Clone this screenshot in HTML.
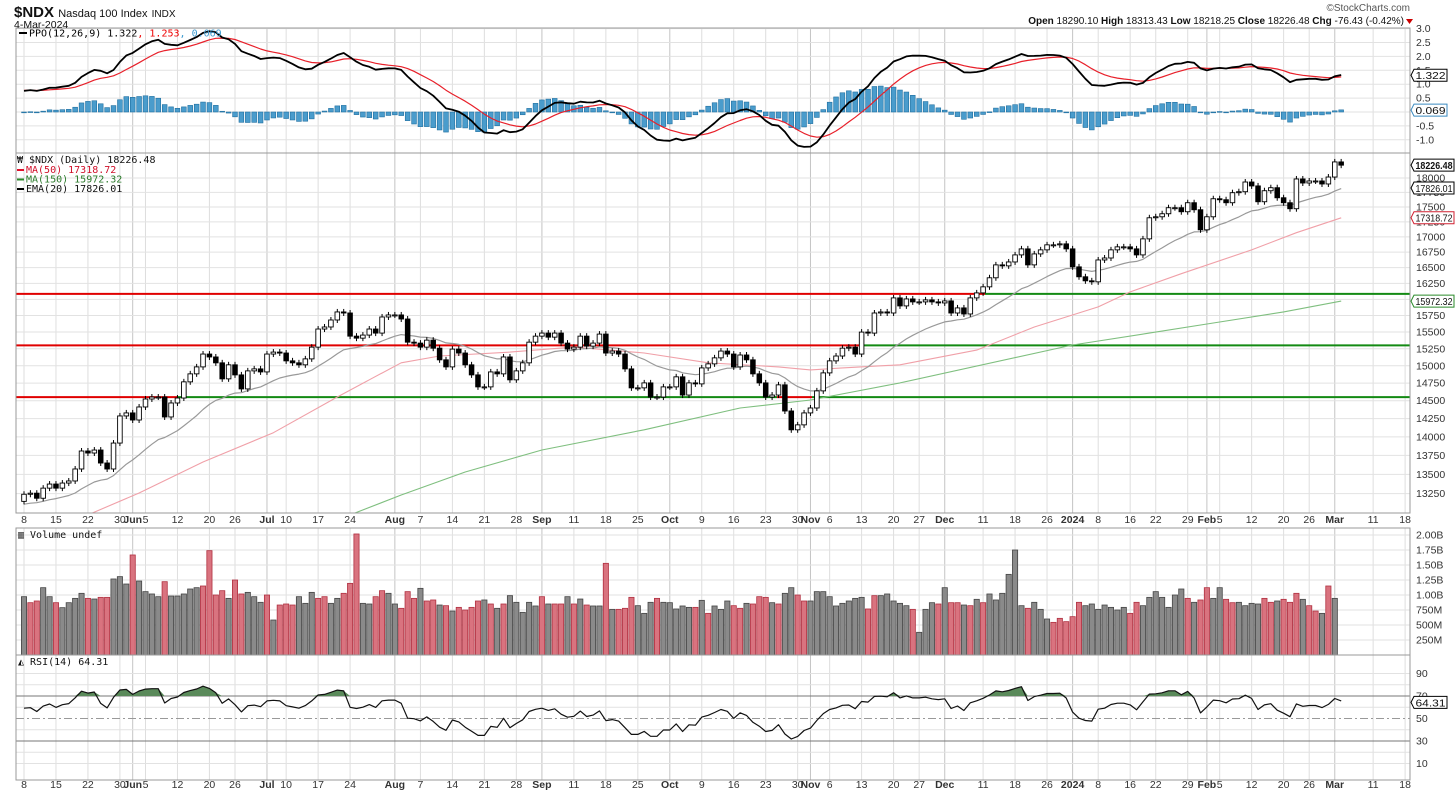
<!DOCTYPE html>
<html><head><meta charset="utf-8">
<style>
html,body{margin:0;padding:0;background:#fff;}
svg{display:block;font-family:"Liberation Sans",Arial,sans-serif;}
.ax{font-size:10.5px;fill:#333;}
.mono{font-family:"DejaVu Sans Mono","Liberation Mono",monospace;font-size:10px;}
</style></head>
<body>
<svg id="chart" width="1456" height="794" viewBox="0 0 1456 794" xmlns="http://www.w3.org/2000/svg">
<rect x="0" y="0" width="1456" height="794" fill="#fff"/>
<g id="grid"></g>
<g id="levels"></g>
<g id="marks"></g>
<g id="frames"></g>
<g id="labels"></g>
<text x="14" y="17" font-size="15" font-weight="bold" fill="#111">$NDX <tspan font-size="11" font-weight="normal">Nasdaq 100 Index</tspan> <tspan font-size="10" font-weight="normal">INDX</tspan></text>
<text x="14" y="28" font-size="10.5" fill="#111">4-Mar-2024</text>
<text x="1410" y="11" font-size="10" fill="#555" text-anchor="end">©StockCharts.com</text>
<text x="1404" y="24" font-size="10" fill="#111" text-anchor="end"><tspan font-weight="bold">Open</tspan> 18290.10 <tspan font-weight="bold">High</tspan> 18313.43 <tspan font-weight="bold">Low</tspan> 18218.25 <tspan font-weight="bold">Close</tspan> 18226.48 <tspan font-weight="bold">Chg</tspan> -76.43 (-0.42%)</text>
<path d="M1406,19 L1413,19 L1409.5,24 Z" fill="#c00"/>
<g class="mono">
<line x1="19" y1="33" x2="27" y2="33" stroke="#000" stroke-width="2"/>
<text x="29" y="36.5">PPO(12,26,9) 1.322<tspan fill="#e00">, 1.253</tspan><tspan fill="#3a9ad0">, 0.069</tspan></text>
</g>
<g class="mono">
<text x="17" y="163" fill="#111">₩ $NDX (Daily) 18226.48</text>
<line x1="17" y1="170" x2="24" y2="170" stroke="#e0102a" stroke-width="2"/><text x="26" y="173" fill="#d0102a">MA(50) 17318.72</text>
<line x1="17" y1="179.5" x2="24" y2="179.5" stroke="#2a8a2a" stroke-width="2"/><text x="26" y="182.5" fill="#2a7a2a">MA(150) 15972.32</text>
<line x1="17" y1="189" x2="24" y2="189" stroke="#000" stroke-width="2"/><text x="26" y="192" fill="#111">EMA(20) 17826.01</text>
</g>
<text class="mono" x="18" y="538" fill="#111">▥ Volume undef</text>
<text class="mono" x="18" y="665" fill="#111">◭ RSI(14) 64.31</text>
<g id="badges"></g>

<script>
// ---------- DATA ----------
const closes = [13241,13255,13190,13320,13373,13320,13386,13413,13570,13809,13782,13822,13649,13570,13916,14287,14329,14231,14412,14524,14552,14552,14273,14468,14538,14768,14883,14984,15172,15129,15043,14811,15014,14868,14667,14926,14955,14911,15172,15201,15187,15072,15043,15014,15101,15274,15545,15576,15682,15805,15789,15438,15408,15454,15545,15484,15728,15759,15759,15697,15348,15334,15274,15378,15259,15087,14984,15245,15187,15014,14868,14696,14696,14911,14883,15129,14797,14926,15043,15348,15438,15484,15423,15484,15334,15245,15274,15438,15289,15334,15469,15187,15216,15172,14955,14682,14682,14753,14552,14552,14696,14696,14840,14580,14753,14739,14969,15028,15116,15216,15172,14984,15158,15087,14883,14753,14552,14580,14725,14356,14096,14164,14329,14398,14639,14897,15072,15143,15259,15274,15172,15499,15484,15789,15805,15789,16022,15898,16006,15960,15960,15991,15960,15944,15975,15789,15867,15774,16022,16100,16195,16338,16544,16528,16591,16705,16803,16544,16721,16787,16869,16869,16885,16803,16512,16354,16290,16274,16623,16655,16787,16836,16836,16803,16705,16967,17318,17335,17386,17488,17488,17420,17573,17454,17117,17335,17641,17624,17573,17745,17762,17930,17862,17590,17779,17831,17658,17573,17471,17983,17913,17948,17948,17896,18017,18283,18226];
const firstOpen = 13150;
const volumes = [972,872,900,1122,972,872,789,872,944,1028,944,933,961,961,1267,1306,1183,1667,1233,1056,1017,972,1222,983,983,1017,1100,1122,1150,1739,1000,1072,944,1250,1017,1044,972,878,1000,583,833,850,833,972,861,1044,944,972,861,944,1028,1194,2017,861,850,972,1072,1028,850,778,1056,944,1111,900,917,833,822,733,794,750,794,900,917,850,778,850,989,878,711,878,817,972,850,850,850,972,850,933,833,817,817,1528,761,761,778,961,822,694,878,944,878,872,767,
817,794,794,911,694,817,761,900,822,778,861,850,972,961,872,850,1028,1122,1000,900,900,1056,1056,972,817,861,900,944,961,767,989,989,1017,900,861,822,761,378,761,872,850,1122,872,872,833,822,928,872,1017,917,1028,1344,1750,822,778,878,761,600,544,611,556,639,878,822,850,761,833,794,750,794,694,878,822,961,1056,961,794,1000,1100,944,878,917,1122,944,1122,928,872,878,822,861,850,944,878,900,928,878,1028,928,822,733,694,1150,944];
const volColors = "grrggrggggrgrrgggrggggrgggggrrrrgrrgggrgrrrgggrrggrrrggrrggrrrgrrgrgrrrrgrgrgggggrgrrgrgrggrgrrrgggrgggggrgrgggrrgrrrgrggrrgggggggggrrgggggrgggrgrrgrgrggggggrgggrrrrrgggggggrrgggggggrgrrggrrggggrrgrrrgrrgrggrgg";
const ma50Idx = [10,18,28,39,49,54,59,65,76,86,97,107,118,123,128,137,149,158,168,173,181,192,199,206];
const ma50Val = [12979,13257,13663,14057,14552,14797,15043,15143,15201,15274,15187,15043,14984,14940,14969,15014,15230,15576,15883,16116,16403,16787,17069,17318];
const ma150Idx = [49,59,69,81,97,112,123,137,164,176,186,197,206];
const ma150Val = [12915,13232,13530,13822,14096,14398,14510,14753,15306,15484,15636,15805,15972];
const emaSeed = 13100, ema12Seed = 13094, ema26Seed = 13000, signalSeed = 0.78;
const rsiGainSeed = 48, rsiLossSeed = 38;
const priceTicks = [13250,13500,13750,14000,14250,14500,14750,15000,15250,15500,15750,16000,16250,16500,16750,17000,17250,17500,17750,18000];
const priceTickLabels = ["13250","13500","13750","14000","14250","14500","14750","15000","15250","15500","15750","16000","16250","16500","16750","17000","17250","17500","17750","18000"];
const ppoTicks = [3.0,2.5,2.0,1.5,1.0,0.5,0,-0.5,-1.0];
const volTicks = [250,500,750,1000,1250,1500,1750,2000];
const volTickLabels = ["250M","500M","750M","1.00B","1.25B","1.50B","1.75B","2.00B"];
const rsiTicks = [10,20,30,40,50,60,70,80,90];
const dateIdx = [0,5,10,15,17,19,24,29,33,38,41,46,51,58,62,67,72,77,81,86,91,96,101,106,111,116,121,123,126,131,136,140,144,150,155,160,164,168,173,177,182,185,187,192,197,201,205,211,216];
const dateLabels = ["8","15","22","30","Jun","5","12","20","26","Jul","10","17","24","Aug","7","14","21","28","Sep","11","18","25","Oct","9","16","23","30","Nov","6","13","20","27","Dec","11","18","26","2024","8","16","22","29","Feb","5","12","20","26","Mar","11","18"];
const boldLabels = ["Jun","Jul","Aug","Sep","Oct","Nov","Dec","2024","Feb","Mar"];
const levelPrices = [16085,15300,14550];

// ---------- SCALES ----------
const L = 16, R = 1410;
const xS = i => 24 + 6.394 * i;
const yP = p => 178 - 1030 * Math.log(p / 18000);
const yPPO = v => 112 - v * 27.8;
const yV = m => 655 - m * 0.06;
const yR = v => 718.5 - (v - 50) * 1.125;
const NS = "http://www.w3.org/2000/svg";
function mk(tag, attrs, parent) {
  const e = document.createElementNS(NS, tag);
  for (const k in attrs) e.setAttribute(k, attrs[k]);
  parent.appendChild(e);
  return e;
}
const grid = document.getElementById('grid');
const marks = document.getElementById('marks');
const labels = document.getElementById('labels');
const frames = document.getElementById('frames');
const levels = document.getElementById('levels');
const badges = document.getElementById('badges');

const panels = [[28,153],[153,513],[528,655],[655,780]];

dateIdx.forEach((di, k) => {
  const x = xS(di);
  const bold = boldLabels.includes(dateLabels[k]);
  panels.forEach(p => {
    const ln = mk('line', {x1:x, x2:x, y1:p[0], y2:p[1], stroke: bold ? '#c4c4c4' : '#dedede', 'stroke-width': 1}, grid);
    
    
  });
  [523, 788].forEach(yy => {
    const t = mk('text', {x:x, y:yy, 'text-anchor':'middle', class:'ax', 'font-weight': bold ? 'bold' : 'normal', fill: bold ? '#111' : '#444'}, labels);
    t.textContent = dateLabels[k];
    
    
  });
});
ppoTicks.forEach(v => {
  const y = yPPO(v);
  mk('line', {x1:L, x2:R, y1:y, y2:y, stroke:'#e2e2e2'}, grid);
  if (v !== 0) {
    const t = mk('text', {x:1416, y:y+3.5, class:'ax'}, labels);
    t.textContent = v.toFixed(1);
    
    
  }
});
priceTicks.forEach((v, k) => {
  const y = yP(v);
  mk('line', {x1:L, x2:R, y1:y, y2:y, stroke:'#e2e2e2'}, grid);
  const t = mk('text', {x:1416, y:y+3.5, class:'ax'}, labels);
  t.textContent = priceTickLabels[k];
  
  
});
volTicks.forEach((v, k) => {
  const y = yV(v);
  mk('line', {x1:L, x2:R, y1:y, y2:y, stroke:'#e2e2e2'}, grid);
  const t = mk('text', {x:1416, y:y+3.5, class:'ax'}, labels);
  t.textContent = volTickLabels[k];
  
  
});
rsiTicks.forEach(v => {
  const y = yR(v);
  let st = '#e2e2e2', dash = null;
  if (v === 70 || v === 30) st = '#777';
  if (v === 50) { st = '#999'; dash = '8,3,2,3'; }
  const a = {x1:L, x2:R, y1:y, y2:y, stroke:st};
  if (dash) a['stroke-dasharray'] = dash;
  mk('line', a, grid);
  if (v % 20 === 10) {
    const t = mk('text', {x:1416, y:y+3.5, class:'ax'}, labels);
    t.textContent = String(v);
    
    
  }
});

const levelSegs = [
  [[L,985,'#e00000'],[985,R,'#138a13']],
  [[L,860,'#e00000'],[860,R,'#138a13']],
  [[L,178,'#e00000'],[178,777,'#138a13'],[777,812,'#e00000'],[812,R,'#138a13']]
];
levelPrices.forEach((p, k) => {
  const y = yP(p);
  levelSegs[k].forEach(s => {
    const ln = mk('line', {x1:s[0], x2:s[1], y1:y, y2:y, stroke:s[2], 'stroke-width':2}, levels);
    
    
  });
});

// ---------- INDICATORS ----------
const n = closes.length;
const ema20 = []; let e = emaSeed;
closes.forEach(c => { e = e + (c - e) * 2 / 21; ema20.push(e); });
const ppo = [], sig = [], hist = [];
let e12 = ema12Seed, e26 = ema26Seed, s = signalSeed;
closes.forEach(c => {
  e12 += (c - e12) * 2 / 13; e26 += (c - e26) * 2 / 27;
  const v = (e12 - e26) / e26 * 100; ppo.push(v);
  s += (v - s) * 2 / 10; sig.push(s); hist.push(v - s);
});
const rsi = []; let ag = rsiGainSeed, al = rsiLossSeed;
closes.forEach((c, i) => {
  const prev = i === 0 ? firstOpen : closes[i-1];
  const d = c - prev;
  ag = (ag * 13 + Math.max(d, 0)) / 14; al = (al * 13 + Math.max(-d, 0)) / 14;
  rsi.push(100 - 100 / (1 + ag / al));
});

const defs = mk('defs', {}, marks);
const cp = mk('clipPath', {id:'pclip'}, defs);
mk('rect', {x:L, y:153, width:R-L, height:360}, cp);
const cp2 = mk('clipPath', {id:'ppoclip'}, defs);
mk('rect', {x:L, y:28, width:R-L, height:125}, cp2);

hist.forEach((h, i) => {
  const y0 = yPPO(0), y1 = yPPO(h * 1.1);
  const b = mk('rect', {x:xS(i)-2.4, y:Math.min(y0,y1), width:4.8, height:Math.max(Math.abs(y1-y0),0.8), fill:'#4a9ccc', stroke:'#1f6fa0', 'stroke-width':0.6}, marks);
  
  
});
function poly(xs, ys, color, w, name, clip) {
  const pts = xs.map((x, k) => x.toFixed(1) + ',' + ys[k].toFixed(1)).join(' ');
  const pl = mk('polyline', {points:pts, fill:'none', stroke:color, 'stroke-width':w, 'stroke-linejoin':'round'}, marks);
  if (clip) pl.setAttribute('clip-path', 'url(#' + clip + ')');
  
  
  return pl;
}
const idx = closes.map((_, i) => i);
poly(idx.map(xS), sig.map(yPPO), '#e8202a', 1.2, 'ppo-signal-line', 'ppoclip');
poly(idx.map(xS), ppo.map(yPPO), '#000', 1.8, 'ppo-line', 'ppoclip');

poly(ma150Idx.map(xS), ma150Val.map(yP), '#7fbf7f', 1.1, 'ma150-line', 'pclip');
poly(ma50Idx.map(xS), ma50Val.map(yP), '#f0a0a8', 1.1, 'ma50-line', 'pclip');
poly(idx.map(xS), ema20.map(yP), '#999', 1.2, 'ema20-line', 'pclip');

closes.forEach((c, i) => {
  const o = i === 0 ? firstOpen : closes[i-1];
  const x = xS(i), yo = yP(o), yc = yP(c);
  const top = Math.min(yo, yc), bot = Math.max(yo, yc);
  const up = c >= o;
  const w = mk('line', {x1:x, x2:x, y1:top-3, y2:bot+3, stroke:'#000', 'stroke-width':1}, marks);
  
  
  const b = mk('rect', {x:x-2.3, y:top, width:4.6, height:Math.max(bot-top,1), fill: up ? '#fff' : '#000', stroke:'#000', 'stroke-width':0.9}, marks);
  
  
});

volumes.forEach((v, i) => {
  const red = volColors[i] === 'r';
  const y = yV(v);
  const b = mk('rect', {x:xS(i)-2.6, y:y, width:5.2, height:655-y, fill: red ? '#d9737f' : '#8a8a8a', stroke: red ? '#b03040' : '#444', 'stroke-width':0.8}, marks);
  
  
});

let fillPts = [];
function flush() {
  if (fillPts.length > 1) {
    const y70 = yR(70);
    const d = 'M' + fillPts[0][0] + ',' + y70 + ' ' + fillPts.map(p => 'L' + p[0] + ',' + p[1]).join(' ') + ' L' + fillPts[fillPts.length-1][0] + ',' + y70 + ' Z';
    const f = mk('path', {d:d, fill:'#5a8a5a', stroke:'none'}, marks);
    
    
  }
  fillPts = [];
}
rsi.forEach((v, i) => {
  if (v > 70) {
    if (fillPts.length === 0 && i > 0) fillPts.push([xS(i-1), yR(70)]);
    fillPts.push([xS(i), yR(v)]);
  } else if (fillPts.length) { fillPts.push([xS(i), yR(70)]); flush(); }
});
flush();
poly(idx.map(xS), rsi.map(yR), '#111', 1.2, 'rsi-line', null);

panels.forEach(p => {
  const r = mk('rect', {x:L, y:p[0], width:R-L, height:p[1]-p[0], fill:'none', stroke:'#999', 'stroke-width':1}, frames);
  
  
});

function badge(y, txt, color, bold) {
  const g = mk('g', {}, badges);
  
  
  const w = Math.min(txt.length * 5.8 + 4, 40);
  mk('path', {d:`M1411,${y} L1414,${y-6} L${1414+w},${y-6} L${1414+w},${y+6} L1414,${y+6} Z`, fill:'#fff', stroke:color, 'stroke-width':1}, g);
  const t = mk('text', {x:1415.5, y:y+4, 'font-size':10.5, fill:'#111', 'font-weight': bold ? 'bold' : 'normal', textLength: (w-3).toFixed(1), lengthAdjust:'spacingAndGlyphs'}, g);
  t.textContent = txt;
}
badge(yPPO(1.322), '1.322', '#000');
badge(yPPO(0.069), '0.069', '#3a8ac0');
badge(yP(closes[n-1]), '18226.48', '#000', true);
badge(yP(17826.01), '17826.01', '#000');
badge(yP(17318.72), '17318.72', '#d02030');
badge(yP(15972.32), '15972.32', '#2a8a2a');
badge(yV(volumes[n-1]), '938636281', '#000');
badge(yR(64.31), '64.31', '#000');
</script>
</svg>
</body></html>
